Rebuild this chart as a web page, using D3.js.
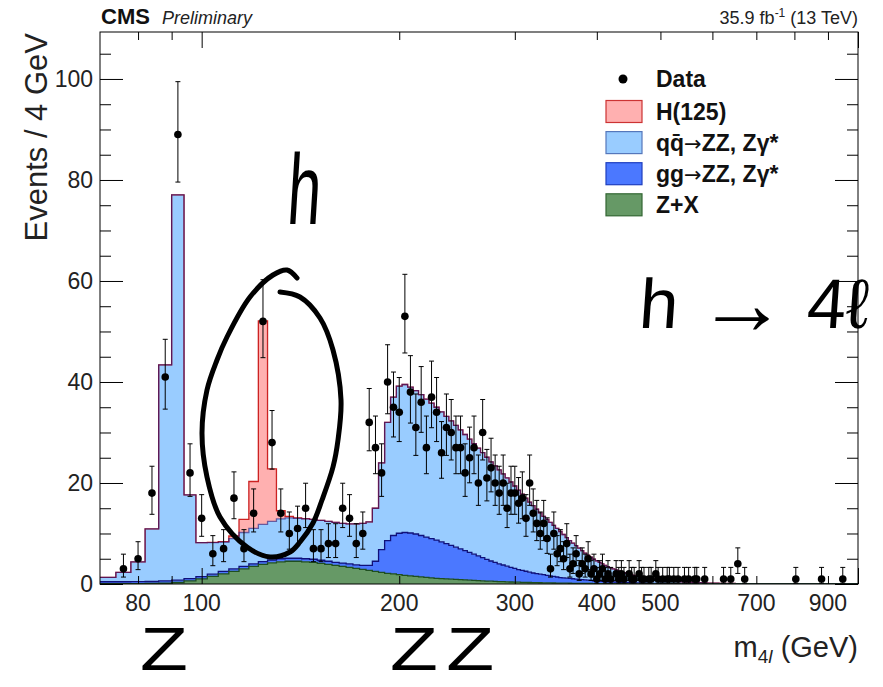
<!DOCTYPE html>
<html>
<head>
<meta charset="utf-8">
<script src="https://cdn.jsdelivr.net/npm/d3@7"></script>
<style>
  body { margin: 0; background: #fff; }
  svg { display: block; }
  text { font-family: "Liberation Sans", Arial, Helvetica, sans-serif; }
</style>
</head>
<body>
<svg id="chart" width="883" height="687"></svg>
<script>
// ---- binning: 4 GeV bins starting at 70 GeV ----
const BIN_START = 70;
const BIN_WIDTH = 4;
const N_BINS = 233;

// ---- expected yields per bin (events / 4 GeV); bins not listed are empty ----
const zx = [
  0.05,0.05,0.08,0.1,0.15,0.3,0.6,1.0,1.5,2.0,
  2.5,3.0,3.5,3.9,4.2,4.4,4.5,4.5,4.4,4.3,
  4.1,3.9,3.7,3.5,3.3,3.1,2.9,2.7,2.5,2.3,
  2.1,2.0,1.85,1.7,1.6,1.5,1.4,1.3,1.2,1.1,
  1.05,1.0,0.95,0.9,0.85,0.8,0.75,0.7,0.66,0.62,
  0.58,0.55,0.52,0.49,0.46,0.43,0.4,0.38,0.36,0.34,
  0.32,0.3,0.28,0.26,0.25,0.24,0.22,0.21,0.2,0.19,
  0.18,0.17,0.16,0.15,0.14,0.13,0.12,0.12,0.11,0.1,
  0.1,0.09,0.09,0.08,0.08,0.07,0.07,0.06,0.06,0.06,
  0.05,0.05,0.05,0.05,0.04,0.04,0.04,0.04,0.04,0.03
];
const ggzz = [
  0.4,0.4,0.4,0.4,0.45,0.45,0.45,0.45,0.45,0.5,
  0.5,0.5,0.5,0.55,0.55,0.6,0.6,0.6,0.6,0.6,
  0.6,0.6,0.6,0.65,0.7,0.7,0.8,1.0,2.0,4.5,
  6.5,7.6,8.2,8.5,8.5,8.4,8.2,8.0,7.8,7.6,
  7.3,7.0,6.7,6.4,6.1,5.8,5.5,5.2,4.9,4.6,
  4.3,4.0,3.75,3.5,3.3,3.1,2.9,2.7,2.5,2.35,
  2.2,2.05,1.9,1.8,1.7,1.6,1.5,1.4,1.3,1.2,
  1.1,1.05,1.0,0.95,0.9,0.85,0.8,0.75,0.7,0.65,
  0.6,0.55,0.5,0.48,0.45,0.42,0.4,0.38,0.35,0.33,
  0.31,0.29,0.27,0.25,0.24,0.22,0.21,0.2,0.19,0.18,
  0.17,0.16,0.15,0.14,0.13,0.12,0.12,0.11,0.1,0.1,
  0.09,0.09,0.08,0.08,0.07,0.07,0.07,0.06,0.06,0.06,
  0.05,0.05,0.05,0.05,0.04,0.04,0.04,0.04,0.04,0.03
];
const qqzz = [
  0.85,1.85,3.9,10.4,42.8,76.3,16.6,6.75,6.25,5.8,
  6.0,6.7,7.0,7.35,7.65,7.9,8.0,7.9,7.9,7.9,
  7.9,7.9,7.9,7.85,7.9,8.1,8.3,8.6,10.5,17.2,
  23.4,27.4,29.15,29.3,28.9,28.4,27.9,27.3,26.8,26.3,
  25.75,25.2,24.65,24.1,23.55,23.0,22.45,21.9,21.34,20.78,
  20.22,19.65,19.13,18.61,18.04,17.47,16.9,16.32,15.74,15.11,
  14.48,13.85,13.32,12.74,12.15,11.56,11.08,10.59,10.1,9.61,
  9.12,8.58,8.04,7.5,7.06,6.62,6.18,5.73,5.29,4.95,
  4.6,4.26,4.01,3.74,3.47,3.21,2.98,2.76,2.59,2.41,
  2.24,2.06,1.93,1.8,1.67,1.54,1.45,1.36,1.27,1.19,
  1.1,1.03,0.96,0.9,0.84,0.79,0.74,0.69,0.65,0.61,
  0.57,0.54,0.51,0.48,0.45,0.42,0.4,0.38,0.36,0.34,
  0.32,0.3,0.28,0.27,0.25,0.24,0.23,0.22,0.21,0.2,
  0.19,0.18,0.17,0.16,0.15,0.15,0.14,0.13,0.13,0.12,
  0.12,0.11,0.11,0.1,0.1,0.09,0.09,0.09,0.08,0.08
];
const h125 = [
  0,0,0,0,0,0,0,0,0.05,0.1,
  0.5,2.6,9.3,40.3,10.4,1.6,0.3,0.1,0.05
];

// ---- observed events per bin ----
const dataCounts = [
  0,3,5,18,41,89,22,13,6,7,
  17,7,14,52,28,14,10,11,15,7,
  7,8,8,15,13,8,10,32,27,22,
  40,35,34,53,38,31,36,27,37,34,
  26,31,30,27,27,22,25,27,20,30,
  21,23,20,18,20,15,18,18,16,17,
  13,20,14,12,10,12,9,3,10,6,
  7,5,8,3,4,6,2,4,3,5,
  2,3,1,2,3,1,2,1,0,2,
  1,2,1,0,2,1,1,0,2,1,
  1,0,1,1,0,2,1,0,1,0,
  1,1,0,1,0,1,0,0,1,0,
  1,0,0,1,1,0,0,0,1,0,
  0,0,0,0,0,0,0,0,1,0,
  0,0,1,0,0,0,4,0,0,0,
  1,0,0,0,0,0,0,0,0,0,
  0,0,0,0,0,0,0,0,0,0,
  0,0,0,0,0,0,0,0,0,0,
  0,0,0,1,0,0,0,0,0,0,
  0,0,0,0,0,0,0,0,0,0,
  0,0,1,0,0,0,0,0,0,0,
  0,0,0,0,0,0,0,0,0,1
];

// ---- axes ----
const xTickLabels = [80, 100, 200, 300, 400, 500, 700, 900];
const xMinorTicks = [80, 90, 200, 300, 400, 500, 600, 700, 800, 900];
const xMajorTicks = [100, 1000];
const yMajorTicks = [0, 20, 40, 60, 80, 100];
const yMinorTicks = [5,10,15,25,30,35,45,50,55,65,70,75,85,90,95,105];

// legend labels are split so the arrow can use a font with a full-size glyph
const legendItems = [
  { parts: ["H(125)"],                           fill: "#ffb0b0", stroke: "#cc3333" },
  { parts: ["qq\u0304", "\u2192", "ZZ, Z\u03b3*"], fill: "#99ccff", stroke: "#5577bb" },
  { parts: ["gg", "\u2192", "ZZ, Z\u03b3*"],       fill: "#4b78ff", stroke: "#1f3fbf" },
  { parts: ["Z+X"],                              fill: "#669966", stroke: "#336633" }
];

const frame = { left: 100, right: 858, top: 32, bottom: 584 };
const svg = d3.select("#chart");

const x = d3.scaleLog().domain([70, 1000]).range([frame.left, frame.right]);
const y = d3.scaleLinear().domain([0, 109.3]).range([frame.bottom, frame.top]);

svg.append("defs").append("clipPath").attr("id", "plotclip")
  .append("rect")
  .attr("x", frame.left).attr("y", frame.top)
  .attr("width", frame.right - frame.left).attr("height", frame.bottom - frame.top);

// ---- stacked histogram ----
const rows = d3.range(N_BINS).map(i => ({
  lo: BIN_START + i * BIN_WIDTH,
  hi: BIN_START + (i + 1) * BIN_WIDTH,
  zx: zx[i] ?? 0,
  gg: ggzz[i] ?? 0,
  qq: qqzz[i] ?? 0,
  h: h125[i] ?? 0
}));
const layers = d3.stack().keys(["zx", "gg", "qq", "h"])(rows);

const stepPoints = layer => layer.flatMap(d => [
  { m: d.data.lo, y0: d[0], y1: d[1] },
  { m: d.data.hi, y0: d[0], y1: d[1] }
]);
const area = d3.area().x(p => x(p.m)).y0(p => y(p.y0)).y1(p => y(p.y1));
const topLine = d3.line().x(p => x(p.m)).y(p => y(p.y1));

const histG = svg.append("g").attr("clip-path", "url(#plotclip)");
const style = {
  zx: { fill: "#669966", line: "#1f4f1f", op: 1 },
  gg: { fill: "#4b78ff", line: "#10107a", op: 1 },
  qq: { fill: "#99ccff", line: "#10107a", op: 0.6 },
  h:  { fill: "#ffb0b0", line: "#cc2222", op: 1 }
};
layers.forEach(layer => {
  histG.append("path")
    .attr("d", area(stepPoints(layer)))
    .attr("fill", style[layer.key].fill)
    .attr("stroke", "none");
});
// outlines: signal first, then the backgrounds over it
["h", "qq", "gg", "zx"].forEach(k => {
  const layer = layers.find(l => l.key === k);
  histG.append("path")
    .attr("d", topLine(stepPoints(layer)))
    .attr("fill", "none")
    .attr("stroke", style[k].line)
    .attr("stroke-opacity", style[k].op)
    .attr("stroke-width", 1.3);
});

// ---- data points with Poisson (Garwood) intervals ----
function chi2Quantile(k, z) {
  // Wilson-Hilferty approximation
  const a = 2 / (9 * k);
  return k * Math.pow(1 - a + z * Math.sqrt(a), 3);
}
const points = dataCounts
  .map((n, i) => ({ n, m: BIN_START + i * BIN_WIDTH + BIN_WIDTH / 2 }))
  .filter(d => d.n > 0)
  .map(d => ({
    ...d,
    lo: chi2Quantile(2 * d.n, -1) / 2,
    hi: chi2Quantile(2 * d.n + 2, 1) / 2
  }));

const dataG = svg.append("g").attr("clip-path", "url(#plotclip)");
const cap = 2.5;
points.forEach(d => {
  const cx = x(d.m);
  const g = dataG.append("g").attr("stroke", "#000").attr("stroke-width", 1);
  g.append("line").attr("x1", cx).attr("x2", cx).attr("y1", y(d.lo)).attr("y2", y(d.hi));
  g.append("line").attr("x1", cx - cap).attr("x2", cx + cap).attr("y1", y(d.lo)).attr("y2", y(d.lo));
  g.append("line").attr("x1", cx - cap).attr("x2", cx + cap).attr("y1", y(d.hi)).attr("y2", y(d.hi));
});
dataG.selectAll("circle").data(points).join("circle")
  .attr("cx", d => x(d.m)).attr("cy", d => y(d.n)).attr("r", 3.8).attr("fill", "#000");

// ---- frame and ticks ----
const axG = svg.append("g");
const addAxis = (gen, tx, ty) => axG.append("g").attr("transform", `translate(${tx},${ty})`)
  .call(gen)
  .call(g => g.select(".domain").remove())
  .call(g => g.selectAll("text").remove())
  .call(g => g.selectAll("line").attr("stroke", "#000"));

addAxis(d3.axisBottom(x).tickValues(xMinorTicks).tickSize(-8), 0, frame.bottom);
addAxis(d3.axisBottom(x).tickValues(xMajorTicks).tickSize(-16), 0, frame.bottom);
addAxis(d3.axisTop(x).tickValues(xMinorTicks).tickSize(-8), 0, frame.top);
addAxis(d3.axisTop(x).tickValues(xMajorTicks).tickSize(-16), 0, frame.top);
addAxis(d3.axisLeft(y).tickValues(yMajorTicks).tickSize(-23), frame.left, 0);
addAxis(d3.axisLeft(y).tickValues(yMinorTicks).tickSize(-11), frame.left, 0);
addAxis(d3.axisRight(y).tickValues(yMajorTicks).tickSize(-23), frame.right, 0);
addAxis(d3.axisRight(y).tickValues(yMinorTicks).tickSize(-11), frame.right, 0);

axG.append("rect")
  .attr("x", frame.left).attr("y", frame.top)
  .attr("width", frame.right - frame.left).attr("height", frame.bottom - frame.top)
  .attr("fill", "none").attr("stroke", "#000").attr("stroke-width", 1);

// tick labels
svg.append("g").selectAll("text").data(xTickLabels).join("text")
  .attr("x", d => x(d)).attr("y", 611)
  .attr("text-anchor", "middle").attr("font-size", 23).attr("fill", "#222")
  .text(d => d);
svg.append("g").selectAll("text").data(yMajorTicks).join("text")
  .attr("x", 93).attr("y", d => y(d) + 8)
  .attr("text-anchor", "end").attr("font-size", 23).attr("fill", "#222")
  .text(d => d);

// axis titles
svg.append("text")
  .attr("transform", `translate(47,${frame.top + 1}) rotate(-90)`)
  .attr("text-anchor", "end").attr("font-size", 31).attr("fill", "#222")
  .text("Events / 4 GeV");
const xt = svg.append("text")
  .attr("x", frame.right).attr("y", 657)
  .attr("text-anchor", "end").attr("font-size", 29).attr("fill", "#222");
xt.append("tspan").text("m");
xt.append("tspan").attr("font-size", 19).attr("dy", 6).text("4");
xt.append("tspan").attr("font-size", 19).attr("font-style", "italic").text("l");
xt.append("tspan").attr("dy", -6).text(" (GeV)");

// header
svg.append("text").attr("x", 101).attr("y", 24)
  .attr("font-size", 22).attr("font-weight", "bold").attr("fill", "#111").text("CMS");
svg.append("text").attr("x", 162).attr("y", 24)
  .attr("font-size", 18).attr("font-style", "italic").attr("fill", "#222").text("Preliminary");
const lumi = svg.append("text").attr("x", frame.right).attr("y", 24)
  .attr("text-anchor", "end").attr("font-size", 18).attr("fill", "#222");
lumi.append("tspan").text("35.9 fb");
lumi.append("tspan").attr("font-size", 12).attr("dy", -7).text("-1");
lumi.append("tspan").attr("dy", 7).text(" (13 TeV)");

// ---- legend ----
const leg = svg.append("g");
leg.append("circle").attr("cx", 623).attr("cy", 79).attr("r", 4.5).attr("fill", "#000");
leg.append("text").attr("x", 656).attr("y", 87)
  .attr("font-size", 23).attr("font-weight", "bold").attr("fill", "#111").text("Data");
legendItems.forEach((it, i) => {
  const cy = 111.5 + i * 31.1;
  leg.append("rect").attr("x", 606).attr("y", cy - 11).attr("width", 36).attr("height", 22)
    .attr("fill", it.fill).attr("stroke", it.stroke).attr("stroke-width", 1.2);
  const t = leg.append("text").attr("x", 656).attr("y", cy + 8)
    .attr("font-size", 23).attr("font-weight", "bold").attr("fill", "#111");
  it.parts.forEach(p => {
    const s = t.append("tspan").text(p);
    if (p === "\u2192") s.attr("font-family", "'DejaVu Sans', sans-serif").attr("font-weight", "normal").attr("font-size", 21);
  });
});

// ---- hand-written annotations ----
const ink = svg.append("g").attr("fill", "#000");
const handFont = "'DejaVu Sans', sans-serif";
ink.append("text").attr("transform", "translate(286,224) scale(0.6,1) skewX(-6)")
  .attr("font-family", handFont).attr("font-weight", 200).attr("font-size", 100).text("h");
const h4l = ink.append("text").attr("transform", "translate(638,328) skewX(-4)")
  .attr("font-family", handFont).attr("font-weight", 200).attr("font-size", 70);
h4l.append("tspan").text("h ");
h4l.append("tspan").attr("font-size", 90).attr("dy", 6).text("\u2192");
h4l.append("tspan").attr("dy", -6).text(" 4\u2113");
ink.append("text").attr("transform", "translate(140,670) scale(1.4,1.1)")
  .attr("font-family", handFont).attr("font-weight", 200).attr("font-size", 56).text("Z");
ink.append("text").attr("transform", "translate(390,670) scale(1.4,1.1)")
  .attr("font-family", handFont).attr("font-weight", 200).attr("font-size", 56).attr("letter-spacing", 6).text("ZZ");

// circled Higgs region
const loop = [
  [280,292],[300,297],[320,318],[333,350],[341,400],[338,440],[333,467],[322,500],[313,523],
  [300,542],[290,552],[270,557],[247,547],[220,517],[207,477],[202,433],[207,390],[217,360],
  [227,337],[250,297],[273,275],[287,270],[297,278]
];
svg.append("path")
  .attr("d", d3.line().curve(d3.curveCatmullRom)(loop))
  .attr("fill", "none").attr("stroke", "#000").attr("stroke-width", 5)
  .attr("stroke-linecap", "round").attr("stroke-linejoin", "round");
</script>
</body>
</html>
